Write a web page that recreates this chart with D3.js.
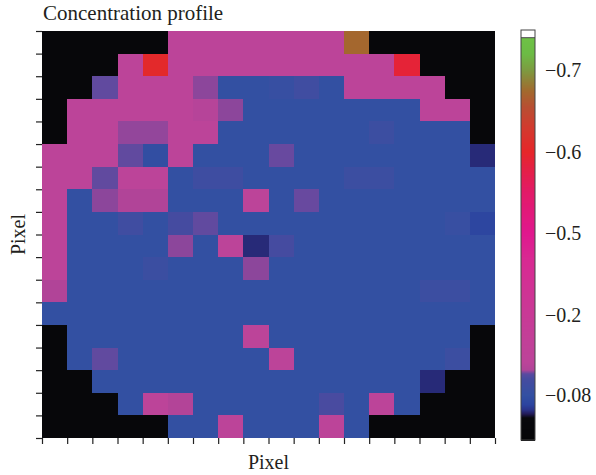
<!DOCTYPE html>
<html>
<head>
<meta charset="utf-8">
<script src="https://cdn.jsdelivr.net/npm/d3@7"></script>
<style>
  body { margin: 0; background: #fff; }
  text { font-family: "Liberation Serif", "DejaVu Serif", serif; fill: #231f20; }
</style>
</head>
<body>
<script>
/* DATA */
var title  = 'Concentration profile',
    xLabel = 'Pixel',
    yLabel = 'Pixel';

// colour bar ticks (bar is not linear, labels sit evenly)
var cbTicks  = [-0.7, -0.6, -0.5, -0.2, -0.08];
var cbLabels = ['\u22120.7', '\u22120.6', '\u22120.5', '\u22120.2', '\u22120.08'];

// colour stops of the bar, by value
var stopValues = [-0.74, -0.72, -0.70, -0.675, -0.655, -0.63, -0.60, -0.58, -0.55, -0.50, -0.40, -0.20, -0.13, -0.118, -0.112, -0.105, -0.08, -0.066, -0.058, -0.052, -0.046, -0.0125];
var stopColors = ['#6ec246', '#6cbb45', '#7d9a40', '#a26a2e', '#b84e32', '#d23a2e', '#e6262a', '#e42044', '#e21a68', '#e0188e', '#d82a92', '#c83a96', '#bc4499', '#b04498', '#5a4aa0', '#464ba0', '#3350a2', '#2c44a0', '#2a3288', '#221a58', '#08080c', '#050507'];

// concentration per pixel, row 0 = top
var row00 = [-0.035, -0.035, -0.035, -0.035, -0.035, -0.13, -0.13, -0.13, -0.13, -0.13, -0.13, -0.13, -0.673, -0.035, -0.035, -0.035, -0.035, -0.035];
var row01 = [-0.035, -0.035, -0.035, -0.13, -0.605, -0.13, -0.13, -0.13, -0.13, -0.13, -0.13, -0.13, -0.13, -0.13, -0.59, -0.035, -0.035, -0.035];
var row02 = [-0.035, -0.035, -0.1125, -0.13, -0.13, -0.13, -0.1155, -0.08, -0.08, -0.085, -0.097, -0.08, -0.13, -0.13, -0.13, -0.13, -0.035, -0.035];
var row03 = [-0.035, -0.13, -0.13, -0.13, -0.13, -0.13, -0.124, -0.1155, -0.08, -0.08, -0.08, -0.08, -0.08, -0.08, -0.08, -0.13, -0.13, -0.035];
var row04 = [-0.035, -0.13, -0.13, -0.116, -0.116, -0.13, -0.13, -0.08, -0.08, -0.08, -0.08, -0.08, -0.08, -0.092, -0.08, -0.08, -0.08, -0.035];
var row05 = [-0.13, -0.13, -0.13, -0.1125, -0.078, -0.13, -0.08, -0.08, -0.08, -0.113, -0.08, -0.08, -0.08, -0.08, -0.08, -0.08, -0.08, -0.056];
var row06 = [-0.13, -0.13, -0.1125, -0.13, -0.13, -0.08, -0.095, -0.095, -0.08, -0.08, -0.08, -0.08, -0.092, -0.092, -0.08, -0.08, -0.08, -0.08];
var row07 = [-0.13, -0.08, -0.1155, -0.119, -0.119, -0.08, -0.08, -0.08, -0.13, -0.08, -0.113, -0.08, -0.08, -0.08, -0.08, -0.08, -0.08, -0.08];
var row08 = [-0.13, -0.08, -0.08, -0.097, -0.08, -0.104, -0.1125, -0.08, -0.08, -0.08, -0.08, -0.08, -0.08, -0.08, -0.08, -0.08, -0.086, -0.068];
var row09 = [-0.13, -0.08, -0.08, -0.08, -0.08, -0.1155, -0.08, -0.13, -0.056, -0.104, -0.08, -0.08, -0.08, -0.08, -0.08, -0.08, -0.08, -0.08];
var row10 = [-0.13, -0.08, -0.08, -0.08, -0.09, -0.08, -0.08, -0.08, -0.1155, -0.08, -0.08, -0.08, -0.08, -0.08, -0.08, -0.08, -0.08, -0.08];
var row11 = [-0.119, -0.08, -0.08, -0.08, -0.08, -0.08, -0.08, -0.08, -0.08, -0.08, -0.08, -0.08, -0.08, -0.08, -0.08, -0.092, -0.092, -0.08];
var row12 = [-0.08, -0.08, -0.08, -0.08, -0.08, -0.08, -0.08, -0.08, -0.08, -0.08, -0.08, -0.08, -0.08, -0.08, -0.08, -0.08, -0.08, -0.08];
var row13 = [-0.035, -0.08, -0.08, -0.08, -0.08, -0.08, -0.08, -0.08, -0.13, -0.08, -0.08, -0.08, -0.08, -0.08, -0.08, -0.08, -0.08, -0.035];
var row14 = [-0.035, -0.08, -0.1125, -0.08, -0.08, -0.08, -0.08, -0.08, -0.08, -0.13, -0.08, -0.08, -0.08, -0.08, -0.08, -0.08, -0.092, -0.035];
var row15 = [-0.035, -0.035, -0.08, -0.08, -0.08, -0.08, -0.08, -0.08, -0.08, -0.08, -0.08, -0.08, -0.08, -0.08, -0.08, -0.056, -0.035, -0.035];
var row16 = [-0.035, -0.035, -0.035, -0.08, -0.13, -0.121, -0.08, -0.08, -0.08, -0.08, -0.08, -0.106, -0.08, -0.13, -0.08, -0.035, -0.035, -0.035];
var row17 = [-0.035, -0.035, -0.035, -0.035, -0.035, -0.08, -0.08, -0.13, -0.08, -0.08, -0.08, -0.13, -0.08, -0.035, -0.035, -0.035, -0.035, -0.035];

var grid = [row00, row01, row02, row03, row04, row05, row06, row07, row08,
            row09, row10, row11, row12, row13, row14, row15, row16, row17];

/* SIZES */
var W = 596, H = 475,
    plot = { left: 42, right: 495, top: 31, bottom: 438 },
    bar  = { x: 521, w: 14, top: 30, cap: 37.7, bottom: 440 },
    nCols = grid[0].length,
    nRows = grid.length;

/* SCALES */
var x = d3.scaleLinear().domain([0, nCols]).range([plot.left, plot.right]);
var y = d3.scaleLinear().domain([0, nRows]).range([plot.top, plot.bottom]);
var color = d3.scaleLinear().domain(stopValues).range(stopColors)
              .interpolate(d3.interpolateRgb).clamp(true);
var cb = d3.scaleLinear().domain(cbTicks).range([70, 152, 233, 315, 395]);

var svg = d3.select('body').append('svg')
            .attr('width', W)
            .attr('height', H);

/* CELLS */
var cells = [];
grid.forEach(function(row, r){
  row.forEach(function(v, c){ cells.push({ r: r, c: c, v: v }); });
});

svg.append('g')
  .attr('shape-rendering', 'crispEdges')
  .selectAll('rect')
  .data(cells)
  .enter().append('rect')
    .attr('x', function(d){ return x(d.c); })
    .attr('y', function(d){ return y(d.r); })
    .attr('width',  function(d){ return x(d.c + 1) - x(d.c); })
    .attr('height', function(d){ return y(d.r + 1) - y(d.r); })
    .attr('fill', function(d){ return color(d.v); });

/* AXES (ticks only) */
var ax = svg.append('g')
  .attr('transform', 'translate(0,' + plot.bottom + ')')
  .call(d3.axisBottom(x).tickValues(d3.range(nCols + 1)).tickSize(6).tickFormat(''));
var ay = svg.append('g')
  .attr('transform', 'translate(' + plot.left + ',0)')
  .call(d3.axisLeft(y).tickValues(d3.range(nRows + 1)).tickSize(6).tickFormat(''));
[ax, ay].forEach(function(g){
  g.select('.domain').remove();
  g.selectAll('.tick line').attr('stroke', '#222').attr('stroke-width', 1.2);
});

/* COLOUR BAR */
var strip = d3.range(bar.cap, bar.bottom, 1);
svg.append('g')
  .attr('shape-rendering', 'crispEdges')
  .selectAll('rect')
  .data(strip)
  .enter().append('rect')
    .attr('x', bar.x)
    .attr('y', function(d){ return d; })
    .attr('width', bar.w)
    .attr('height', 1.2)
    .attr('fill', function(d){ return color(cb.invert(d + 0.5)); });

svg.append('rect')
  .attr('x', bar.x).attr('y', bar.top)
  .attr('width', bar.w).attr('height', bar.cap - bar.top)
  .attr('fill', '#fff');
svg.append('line')
  .attr('x1', bar.x).attr('x2', bar.x + bar.w)
  .attr('y1', bar.cap).attr('y2', bar.cap)
  .attr('stroke', '#444').attr('stroke-width', 1);
svg.append('rect')
  .attr('x', bar.x).attr('y', bar.top)
  .attr('width', bar.w).attr('height', bar.bottom - bar.top)
  .attr('fill', 'none')
  .attr('stroke', '#444').attr('stroke-width', 1);

var cbAxis = svg.append('g')
  .attr('transform', 'translate(' + (bar.x + bar.w) + ',0)')
  .call(d3.axisRight(cb).tickValues(cbTicks).tickSize(0).tickPadding(10)
          .tickFormat(function(d, i){ return cbLabels[i]; }));
cbAxis.select('.domain').remove();
cbAxis.selectAll('text')
  .attr('font-family', '"Liberation Serif", serif')
  .attr('font-size', 20)
  .attr('fill', '#231f20');

/* TEXT */
svg.append('text')
  .attr('x', 43).attr('y', 20)
  .attr('font-size', 21)
  .text(title);

svg.append('text')
  .attr('x', (plot.left + plot.right) / 2).attr('y', 469)
  .attr('text-anchor', 'middle')
  .attr('font-size', 20)
  .text(xLabel);

svg.append('text')
  .attr('transform', 'translate(25,' + (plot.top + plot.bottom) / 2 + ') rotate(-90)')
  .attr('text-anchor', 'middle')
  .attr('font-size', 20)
  .text(yLabel);
</script>
</body>
</html>
